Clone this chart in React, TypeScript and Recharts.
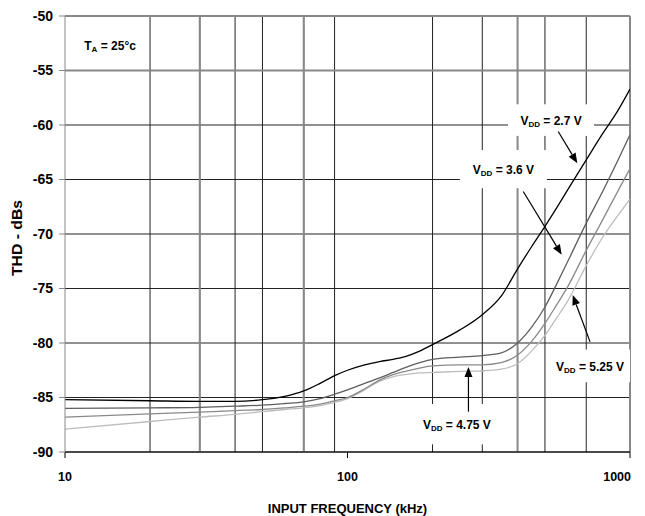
import {
  LineChart,
  Line,
  XAxis,
  YAxis,
  CartesianGrid,
  ReferenceLine,
  ReferenceArea,
  ReferenceDot,
} from "recharts";

// input frequency, kHz
const FREQ = [
  10, 20, 30, 40, 50, 60, 70, 80, 90, 100, 115, 130, 145, 160, 180, 200, 250,
  300, 350, 400, 450, 500, 550, 600, 700, 800, 900, 1000,
];

// THD in dB for each supply voltage
const VDD_27 = [
  -85.2, -85.3, -85.35, -85.35, -85.2, -84.9, -84.4, -83.7, -83.0, -82.5, -82.0,
  -81.7, -81.5, -81.25, -80.75, -80.15, -78.8, -77.4, -75.7, -73.2, -71.1, -69.3,
  -67.6, -66.0, -63.2, -60.8, -58.8, -56.7,
];
const VDD_36 = [
  -86.0, -85.95, -85.9, -85.8, -85.7, -85.55, -85.4, -85.1, -84.7, -84.3, -83.7,
  -83.2, -82.7, -82.25, -81.8, -81.5, -81.3, -81.15, -80.9, -80.0, -78.5, -76.7,
  -74.6, -72.6, -69.0, -66.1, -63.4, -60.9,
];
const VDD_475 = [
  -86.8, -86.5, -86.35, -86.2, -86.1, -85.95, -85.8, -85.6, -85.3, -85.0, -84.2,
  -83.4, -82.9, -82.6, -82.3, -82.1, -82.0, -82.0, -81.8, -81.1, -79.8, -78.2,
  -76.5, -74.9, -71.5, -68.7, -66.2, -64.0,
];
const VDD_525 = [
  -87.9, -87.2, -86.8, -86.55, -86.3, -86.1, -85.95, -85.75, -85.45, -85.1,
  -84.3, -83.5, -83.1, -82.9, -82.75, -82.7, -82.6, -82.55, -82.4, -81.9, -80.7,
  -79.3, -77.7, -76.2, -72.9, -70.3, -68.4, -66.8,
];

const X_TICKS = [10, 100, 1000];
const Y_TICKS = [-90, -85, -80, -75, -70, -65, -60, -55, -50];
const MINOR_FREQ = [20, 30, 40, 50, 60, 70, 80, 90, 200, 300, 400, 500, 600, 700, 800, 900, 1000];
const HEAVY_FREQ = [30, 70, 400, 1000];
const HEAVY_DB = [-55, -50];

// callouts: label box (freq/dB corners), label text and arrow (from -> to)
const CALLOUTS = [
  { main: "V", sub: "DD", rest: " = 2.7 V", box: [370, 746, -58.1, -61.0], arrow: [557, -60.6, 651, -63.5] },
  { main: "V", sub: "DD", rest: " = 3.6 V", box: [250, 508, -62.3, -65.8], arrow: [419, -66.1, 573, -71.9] },
  { main: "V", sub: "DD", rest: " = 4.75 V", box: [176, 338, -85.6, -89.3], arrow: [268, -86.3, 268, -82.2] },
  { main: "V", sub: "DD", rest: " = 5.25 V", box: [521, 1000, -80.6, -83.6], arrow: [722, -79.9, 627, -75.6] },
];

const data = FREQ.map((f, i) => ({
  f,
  v27: VDD_27[i],
  v36: VDD_36[i],
  v475: VDD_475[i],
  v525: VDD_525[i],
}));

const FONT = "'Liberation Sans', Arial, sans-serif";

function Arrow(props: any) {
  const { x1, y1, x2, y2 } = props;
  const dx = x2 - x1;
  const dy = y2 - y1;
  const len = Math.sqrt(dx * dx + dy * dy);
  const ux = dx / len;
  const uy = dy / len;
  const hl = 10;
  const hw = 4;
  const bx = x2 - ux * hl;
  const by = y2 - uy * hl;
  return (
    <g>
      <line x1={x1} y1={y1} x2={bx} y2={by} stroke="#000" strokeWidth={1.2} />
      <polygon
        points={`${x2},${y2} ${bx - uy * hw},${by + ux * hw} ${bx + uy * hw},${by - ux * hw}`}
        fill="#000"
      />
    </g>
  );
}

function makeBox(c: any) {
  return (props: any) => {
    const { x, y, width, height } = props;
    const cx = x + width / 2;
    const cy = y + height / 2;
    return (
      <g>
        <rect x={x} y={y} width={width} height={height} fill="#fff" />
        <text
          x={cx}
          y={cy + 5}
          textAnchor="middle"
          fontFamily={FONT}
          fontWeight="bold"
          fontSize={12}
          fill="#000"
        >
          {c.main}
          <tspan fontSize={8} dy={2}>
            {c.sub}
          </tspan>
          <tspan dy={-2}>{c.rest}</tspan>
        </text>
      </g>
    );
  };
}

function TempLabel(props: any) {
  const { cx, cy } = props;
  return (
    <text x={cx} y={cy} fontFamily={FONT} fontWeight="bold" fontSize={12} fill="#000">
      T
      <tspan fontSize={8} dy={2}>
        A
      </tspan>
      <tspan dy={-2}> = 25°c</tspan>
    </text>
  );
}

function FreqTick(props: any) {
  const { x, y, payload } = props;
  const last = payload.value === 1000;
  return (
    <text
      x={last ? x + 2 : x}
      y={y}
      dy="0.71em"
      textAnchor={last ? "end" : "middle"}
      fontFamily={FONT}
      fontWeight="bold"
      fontSize={12.5}
      fill="#000"
    >
      {payload.value}
    </text>
  );
}

export default function App() {
  return (
    <LineChart
      width={637}
      height={508}
      data={data}
      margin={{ top: 8, right: 15, bottom: 0, left: 12 }}
    >
      <CartesianGrid
        verticalValues={MINOR_FREQ}
        stroke="#222"
        strokeOpacity={1}
        strokeWidth={1}
      />
      <CartesianGrid
        horizontalValues={HEAVY_DB}
        verticalValues={HEAVY_FREQ}
        stroke="#888"
        strokeOpacity={1}
        strokeWidth={2}
      />
      <XAxis
        dataKey="f"
        type="number"
        scale="log"
        domain={[10, 1000]}
        ticks={X_TICKS}
        allowDataOverflow
        height={64}
        stroke="#000"
        tickSize={6}
        tickMargin={14}
        tick={<FreqTick />}
        label={{
          content: (p: any) => (
            <text
              x={p.viewBox.x + p.viewBox.width / 2}
              y={p.viewBox.y + 61}
              textAnchor="middle"
              fontFamily={FONT}
              fontWeight="bold"
              fontSize={13}
              fill="#000"
            >
              INPUT FREQUENCY (kHz)
            </text>
          ),
        }}
      />
      <YAxis
        type="number"
        domain={[-90, -50]}
        ticks={Y_TICKS}
        width={45}
        stroke="#888"
        tickSize={6}
        tickMargin={6}
        tick={{ fill: "#000", fontSize: 14, fontWeight: "bold", fontFamily: FONT }}
        label={{
          content: (p: any) => {
            const x = p.viewBox.x - 3;
            const y = p.viewBox.y + p.viewBox.height / 2 + 4;
            return (
              <text
                x={x}
                y={y}
                transform={`rotate(-90 ${x} ${y})`}
                textAnchor="middle"
                dominantBaseline="central"
                fontFamily={FONT}
                fontWeight="bold"
                fontSize={14}
                textLength={76}
                lengthAdjust="spacingAndGlyphs"
                fill="#000"
              >
                THD - dBs
              </text>
            );
          },
        }}
      />
      <Line dataKey="v525" type="monotone" stroke="#bdbdbd" strokeWidth={1.3} dot={false} isAnimationActive={false} />
      <Line dataKey="v475" type="monotone" stroke="#8a8a8a" strokeWidth={1.3} dot={false} isAnimationActive={false} />
      <Line dataKey="v36" type="monotone" stroke="#5e5e5e" strokeWidth={1.3} dot={false} isAnimationActive={false} />
      <Line dataKey="v27" type="monotone" stroke="#000" strokeWidth={1.3} dot={false} isAnimationActive={false} />
      {CALLOUTS.map((c, i) => (
        <ReferenceArea
          key={`b${i}`}
          x1={c.box[0]}
          x2={c.box[1]}
          y1={c.box[2]}
          y2={c.box[3]}
          ifOverflow="visible"
          shape={makeBox(c)}
        />
      ))}
      {CALLOUTS.map((c, i) => (
        <ReferenceLine
          key={`a${i}`}
          segment={[
            { x: c.arrow[0], y: c.arrow[1] },
            { x: c.arrow[2], y: c.arrow[3] },
          ]}
          ifOverflow="visible"
          shape={Arrow}
        />
      ))}
      <ReferenceDot x={11.7} y={-53.1} ifOverflow="visible" shape={TempLabel} />
    </LineChart>
  );
}
